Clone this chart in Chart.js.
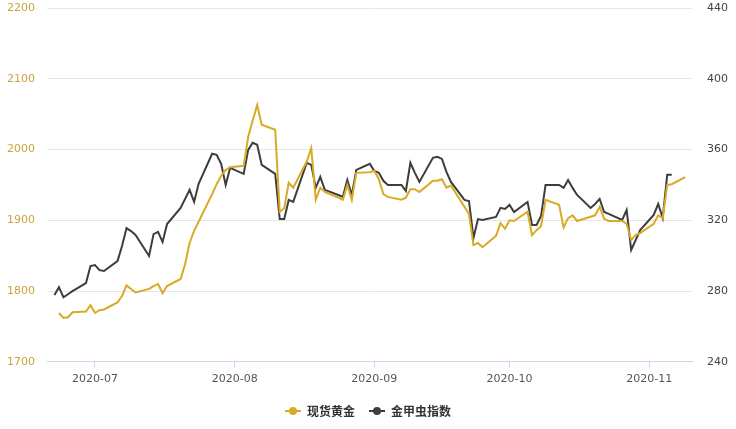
<!DOCTYPE html>
<html>
<head>
<meta charset="utf-8">
<script src="https://cdn.jsdelivr.net/npm/chart.js@4.4.0/dist/chart.umd.min.js"></script>
<style>
  html, body { margin: 0; padding: 0; background: #fff; }
  #wrap { width: 736px; height: 429px; }
</style>
</head>
<body>
<div id="wrap"><canvas id="canvas1"></canvas></div>
<script>
// trading days
var dates = [
  '2020-06-22','2020-06-23','2020-06-24','2020-06-25','2020-06-26','2020-06-29','2020-06-30',
  '2020-07-01','2020-07-02','2020-07-03','2020-07-06','2020-07-07','2020-07-08','2020-07-09','2020-07-10',
  '2020-07-13','2020-07-14','2020-07-15','2020-07-16','2020-07-17',
  '2020-07-20','2020-07-21','2020-07-22','2020-07-23','2020-07-24',
  '2020-07-27','2020-07-28','2020-07-29','2020-07-30','2020-07-31',
  '2020-08-03','2020-08-04','2020-08-05','2020-08-06','2020-08-07',
  '2020-08-10','2020-08-11','2020-08-12','2020-08-13','2020-08-14',
  '2020-08-17','2020-08-18','2020-08-19','2020-08-20','2020-08-21',
  '2020-08-24','2020-08-25','2020-08-26','2020-08-27','2020-08-28',
  '2020-08-31','2020-09-01','2020-09-02','2020-09-03','2020-09-04',
  '2020-09-07','2020-09-08','2020-09-09','2020-09-10','2020-09-11',
  '2020-09-14','2020-09-15','2020-09-16','2020-09-17','2020-09-18',
  '2020-09-21','2020-09-22','2020-09-23','2020-09-24','2020-09-25',
  '2020-09-28','2020-09-29','2020-09-30','2020-10-01','2020-10-02',
  '2020-10-05','2020-10-06','2020-10-07','2020-10-08','2020-10-09',
  '2020-10-12','2020-10-13','2020-10-14','2020-10-15','2020-10-16',
  '2020-10-19','2020-10-20','2020-10-21','2020-10-22','2020-10-23',
  '2020-10-26','2020-10-27','2020-10-28','2020-10-29','2020-10-30',
  '2020-11-02','2020-11-03','2020-11-04','2020-11-05','2020-11-06',
  '2020-11-09'
];

// 现货黄金 (left axis)
var goldPrice = [
  null, 1769, 1762, 1763, 1770, 1771, 1780,
  1769, 1773, 1774, 1784, 1793, 1808, 1803, 1798,
  1803, 1807, 1810, 1797, 1807,
  1817, 1838, 1868, 1885, 1898,
  1937, 1951, 1963, 1971, 1975,
  1977, 2018, 2041, 2063, 2035,
  2028, 1912, 1917, 1953, 1946,
  1983, 2002, 1929, 1946, 1940,
  1932, 1929, 1950, 1929, 1967,
  1968, 1970, 1958, 1937, 1933,
  1929, 1932, 1944, 1944, 1940,
  1956, 1956, 1958, 1946, 1949,
  1919, 1909, 1865, 1868, 1862,
  1878, 1896, 1888, 1900, 1899,
  1912, 1879, 1886, 1892, 1929,
  1922, 1890, 1903, 1907, 1899,
  1905, 1907, 1919, 1902, 1899,
  1899, 1895, 1872, 1879, 1882,
  1895, 1907, 1903, 1950, 1951,
  1961
];

// 金甲虫指数 (right axis)
var bugIndex = [
  277.7, 282.2, 276.5, 278.2, 279.9, 284.5, 294.1,
  294.7, 291.8, 291.3, 296.9, 305.4, 315.6, 313.9, 311.7,
  299.8, 312.2, 313.4, 307.7, 317.9,
  327.0, 332.1, 337.2, 330.4, 340.6,
  357.6, 357.0, 351.9, 340.0, 349.6,
  346.2, 359.8, 363.8, 362.7, 351.3,
  346.2, 320.7, 320.7, 331.5, 330.4,
  352.5, 351.3, 338.3, 344.5, 337.2,
  334.3, 333.2, 342.8, 334.3, 348.5,
  351.9, 347.9, 346.8, 342.3, 340.0,
  340.0, 336.6, 352.5, 346.8, 341.7,
  355.3, 355.9, 354.7, 347.4, 341.7,
  331.5, 330.9, 310.0, 320.7, 320.2,
  321.9, 327.0, 326.4, 328.7, 324.7,
  330.4, 317.3, 317.3, 322.4, 340.0,
  340.0, 338.3, 342.8, 338.3, 334.3,
  327.0, 329.2, 332.1, 324.7, 323.6,
  320.2, 325.8, 303.2, 308.8, 314.5,
  323.0, 329.2, 321.3, 345.7, 345.7,
  null
];

var monthTicks = ['2020-07-01', '2020-08-01', '2020-09-01', '2020-10-01', '2020-11-01'];
var monthLabels = ['2020-07', '2020-08', '2020-09', '2020-10', '2020-11'];
var seriesNames = ['现货黄金', '金甲虫指数'];

var GOLD = '#d8aa25';
var DARK = '#3d3d3d';

// days since 2020-07-01
function dayNum(s) {
  var p = s.split('-');
  return (Date.UTC(+p[0], +p[1] - 1, +p[2]) - Date.UTC(2020, 6, 1)) / 86400000;
}

function points(values) {
  return dates.map(function(d, i) { return { x: dayNum(d), y: values[i] }; });
}

function marker(color) {
  var c = document.createElement('canvas');
  c.width = 16; c.height = 10;
  var g = c.getContext('2d');
  g.strokeStyle = color;
  g.lineWidth = 2;
  g.beginPath(); g.moveTo(0, 5); g.lineTo(16, 5); g.stroke();
  g.fillStyle = color;
  g.beginPath(); g.arc(8, 5, 4, 0, Math.PI * 2); g.fill();
  return c;
}

var tickDays = monthTicks.map(dayNum);

// fixed axis widths, no extra top/bottom padding from the labels
function fitWidth(w) {
  return function(scale) {
    scale.width = w;
    scale.paddingTop = 0;
    scale.paddingBottom = 0;
  };
}

window.onload = function() {
  var ctx = document.getElementById('canvas1').getContext('2d');
  window.myLine = new Chart(ctx, {
    type: 'line',
    data: {
      datasets: [{
        label: seriesNames[0],
        data: points(goldPrice),
        borderColor: GOLD,
        backgroundColor: GOLD,
        borderWidth: 2,
        pointRadius: 0,
        tension: 0,
        yAxisID: 'y'
      }, {
        label: seriesNames[1],
        data: points(bugIndex),
        borderColor: DARK,
        backgroundColor: DARK,
        borderWidth: 2,
        pointRadius: 0,
        tension: 0,
        yAxisID: 'y1'
      }]
    },
    options: {
      responsive: true,
      maintainAspectRatio: false,
      animation: false,
      events: [],
      layout: { padding: { top: 8, left: 0, right: 0, bottom: 2 } },
      plugins: {
        tooltip: { enabled: false },
        legend: {
          position: 'bottom',
          labels: {
            usePointStyle: true,
            pointStyleWidth: 16,
            padding: 14,
            color: '#333',
            font: { family: "'Noto Sans CJK SC', sans-serif", size: 12, weight: 'bold' },
            generateLabels: function(chart) {
              var items = Chart.defaults.plugins.legend.labels.generateLabels(chart);
              items.forEach(function(it, i) {
                it.pointStyle = marker(i === 0 ? GOLD : DARK);
              });
              return items;
            }
          }
        }
      },
      scales: {
        x: {
          type: 'linear',
          min: -10.65,
          max: 132.5,
          afterBuildTicks: function(scale) {
            scale.ticks = tickDays.map(function(v) { return { value: v }; });
          },
          ticks: {
            autoSkip: false,
            maxRotation: 0,
            padding: 5,
            color: '#555',
            font: { family: "'DejaVu Sans', sans-serif", size: 11 },
            callback: function(v) {
              var i = tickDays.indexOf(v);
              return i >= 0 ? monthLabels[i] : '';
            }
          },
          grid: { drawOnChartArea: false, drawTicks: true, tickLength: 6, color: '#ccd6eb' },
          border: { display: true, color: '#ccd6eb' }
        },
        y: {
          position: 'left',
          min: 1700,
          max: 2200,
          afterFit: fitWidth(47),
          ticks: {
            stepSize: 100,
            padding: 12,
            color: '#c9a43b',
            font: { family: "'DejaVu Sans', sans-serif", size: 11 },
            callback: function(v) { return String(v); }
          },
          grid: { color: '#e6e6e6', drawTicks: false },
          border: { display: false }
        },
        y1: {
          position: 'right',
          min: 240,
          max: 440,
          afterFit: fitWidth(44),
          ticks: {
            stepSize: 40,
            padding: 15,
            color: '#444',
            font: { family: "'DejaVu Sans', sans-serif", size: 11 },
            callback: function(v) { return String(v); }
          },
          grid: { drawOnChartArea: false, drawTicks: false },
          border: { display: false }
        }
      }
    }
  });
};
</script>
</body>
</html>
